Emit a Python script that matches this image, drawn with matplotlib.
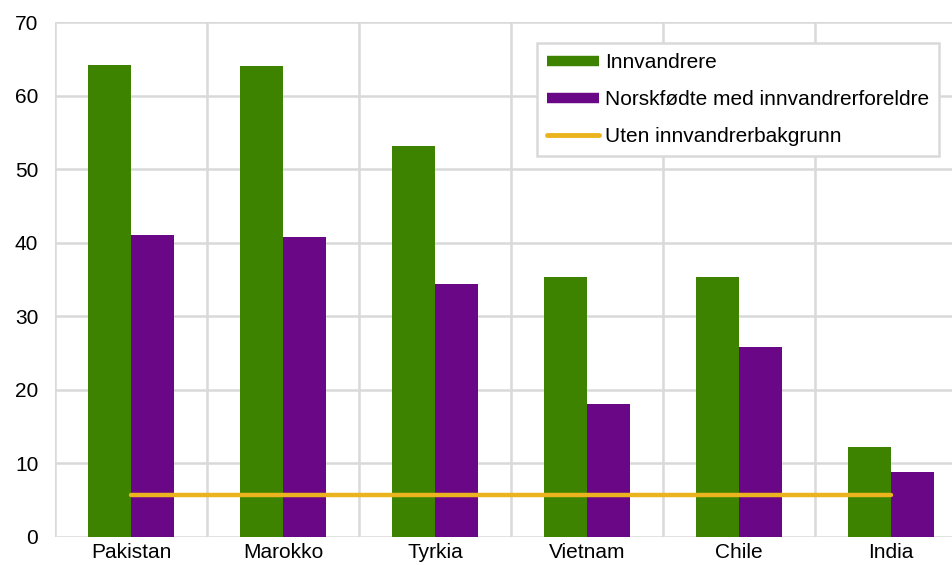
import matplotlib.pyplot as plt
from matplotlib.lines import Line2D
import numpy as np

plt.rcParams['font.family'] = ['Liberation Sans', 'DejaVu Sans']

countries = ['Pakistan', 'Marokko', 'Tyrkia', 'Vietnam', 'Chile', 'India']
innvandrere = [64.2, 64.0, 53.1, 35.3, 35.3, 12.2]
norskfodte = [41.1, 40.8, 34.4, 18.1, 25.8, 8.8]
uten_bakgrunn = [5.7, 5.7, 5.7, 5.7, 5.7, 5.7]

green = '#3D8300'
purple = '#690787'
yellow = '#EBB31D'
grid = '#D9D9D9'

fig = plt.figure(figsize=(9.53, 5.65), dpi=100)
ax = fig.add_axes([55 / 953, 28 / 565, 912 / 953, 515 / 565])

x = np.arange(len(countries))
w = 0.285
ax.bar(x - w / 2, innvandrere, w, color=green, zorder=2)
ax.bar(x + w / 2, norskfodte, w, color=purple, zorder=2)
ax.plot(x, uten_bakgrunn, color=yellow, lw=3.2, solid_capstyle='round', zorder=3)

ax.set_xlim(-0.5, len(countries) - 0.5)
ax.set_ylim(0, 70)
ax.set_yticks(range(0, 71, 10))
ax.set_xticks(x)
ax.set_xticklabels(countries)
ax.set_xticks(np.arange(-0.5, len(countries)), minor=True)
ax.grid(axis='y', color=grid, lw=1.8, zorder=0)
ax.grid(axis='x', which='minor', color=grid, lw=1.8, zorder=0)
ax.tick_params(axis='both', which='both', length=0, labelsize=15, colors='black')
ax.tick_params(axis='x', pad=4)
ax.tick_params(axis='y', pad=12)
for s in ax.spines.values():
    s.set_visible(False)

handles = [
    Line2D([], [], color=green, lw=7.5, solid_capstyle='butt'),
    Line2D([], [], color=purple, lw=7.5, solid_capstyle='butt'),
    Line2D([], [], color=yellow, lw=3.5, solid_capstyle='round'),
]
labels = ['Innvandrere', 'Norskfødte med innvandrerforeldre', 'Uten innvandrerbakgrunn']
leg = fig.legend(handles, labels, loc='upper left',
                 bbox_to_anchor=(537 / 953, 1 - 43 / 565), bbox_transform=fig.transFigure,
                 fontsize=15, fancybox=False, framealpha=1, edgecolor=grid,
                 handlelength=2.5, handletextpad=0.25, labelspacing=0.85,
                 borderpad=0.5, borderaxespad=0)
leg.get_frame().set_linewidth(1.8)

fig.savefig('out.png', dpi=100)
